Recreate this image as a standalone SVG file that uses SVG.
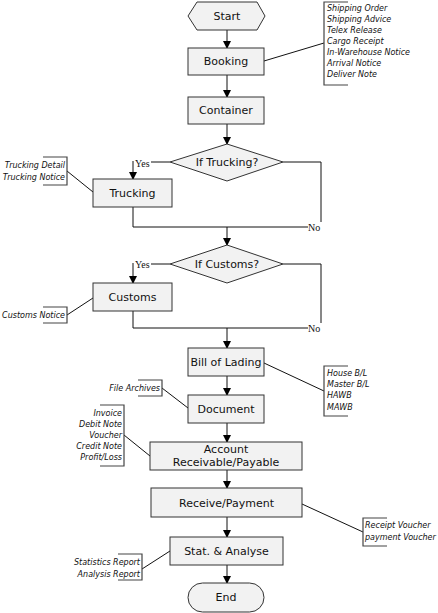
<svg xmlns="http://www.w3.org/2000/svg" width="438" height="613" viewBox="0 0 438 613">
<style>
.box{fill:#f2f2f2;stroke:#333;stroke-width:1}
.t{font-family:"DejaVu Sans",Verdana,sans-serif;font-size:11px;fill:#111;text-anchor:middle;dominant-baseline:central}
.a{font-family:"DejaVu Sans",Verdana,sans-serif;font-size:8px;font-style:italic;fill:#111}
.yn{font-family:"Liberation Serif","Times New Roman",serif;font-size:10px;fill:#111;dominant-baseline:central}
.ln{fill:none;stroke:#111;stroke-width:1}
.br{fill:none;stroke:#444;stroke-width:1.2}
</style>
<defs>
<marker id="ar" markerWidth="8" markerHeight="8" refX="7" refY="4" orient="auto" markerUnits="userSpaceOnUse">
<path d="M0,0 L8,4 L0,8 Z" fill="#000"/>
</marker>
</defs>
<rect width="438" height="613" fill="#fff"/>

<g id="connectors">
<path class="ln" d="M227,30 V48" marker-end="url(#ar)"/>
<path class="ln" d="M227,75 V97" marker-end="url(#ar)"/>
<path class="ln" d="M227,124 V144" marker-end="url(#ar)"/>
<path class="ln" d="M170,162 H151"/>
<path class="ln" d="M133,161 V179" marker-end="url(#ar)"/>
<path class="ln" d="M283,162 H321 V222"/>
<path class="ln" d="M133,207 V227 H308"/>
<path class="ln" d="M227,227 V245" marker-end="url(#ar)"/>
<path class="ln" d="M170,264 H151"/>
<path class="ln" d="M133,263 V283" marker-end="url(#ar)"/>
<path class="ln" d="M283,264 H321 V323"/>
<path class="ln" d="M133,311 V328 H308"/>
<path class="ln" d="M227,328 V348" marker-end="url(#ar)"/>
<path class="ln" d="M227,376 V395" marker-end="url(#ar)"/>
<path class="ln" d="M227,423 V442" marker-end="url(#ar)"/>
<path class="ln" d="M227,470 V488" marker-end="url(#ar)"/>
<path class="ln" d="M227,517 V537" marker-end="url(#ar)"/>
<path class="ln" d="M227,565 V583" marker-end="url(#ar)"/>
<text class="yn" x="135" y="163">Yes</text>
<text class="yn" x="308" y="227">No</text>
<text class="yn" x="135" y="264">Yes</text>
<text class="yn" x="308" y="328">No</text>
<!-- annotation links -->
<path class="ln" d="M264,61 L324,43"/>
<path class="ln" d="M67,171 L93,192"/>
<path class="ln" d="M67,315 L93,298"/>
<path class="ln" d="M264,363 L324,391"/>
<path class="ln" d="M162,388 L188,408"/>
<path class="ln" d="M124,435 L150,456"/>
<path class="ln" d="M302,504 L363,532"/>
<path class="ln" d="M142,569 L170,551"/>
</g>

<g id="start">
<polygon class="box" points="188,16 197,2 257,2 265,16 257,30 197,30"/>
<text class="t" x="227" y="16">Start</text>
</g>
<g id="booking">
<rect class="box" x="188" y="48" width="76" height="27"/>
<text class="t" x="226" y="61.5">Booking</text>
</g>
<g id="container">
<rect class="box" x="188" y="97" width="76" height="27"/>
<text class="t" x="226" y="110.5">Container</text>
</g>
<g id="if-trucking">
<polygon class="box" points="170,162 227,144 283,162 227,181"/>
<text class="t" x="227" y="162.5">If Trucking?</text>
</g>
<g id="trucking">
<rect class="box" x="93" y="179" width="79" height="28"/>
<text class="t" x="132.5" y="193">Trucking</text>
</g>
<g id="if-customs">
<polygon class="box" points="170,264 227,245 283,264 227,283"/>
<text class="t" x="227" y="264.5">If Customs?</text>
</g>
<g id="customs">
<rect class="box" x="93" y="283" width="79" height="28"/>
<text class="t" x="132.5" y="297">Customs</text>
</g>
<g id="bill-of-lading">
<rect class="box" x="188" y="348" width="76" height="28"/>
<text class="t" x="226" y="362">Bill of Lading</text>
</g>
<g id="document">
<rect class="box" x="188" y="395" width="76" height="28"/>
<text class="t" x="226" y="409">Document</text>
</g>
<g id="account">
<rect class="box" x="150" y="442" width="152" height="28"/>
<text class="t" x="226" y="449.5">Account</text>
<text class="t" x="226" y="462.5">Receivable/Payable</text>
</g>
<g id="receive-payment">
<rect class="box" x="151" y="488" width="151" height="29"/>
<text class="t" x="226.5" y="503">Receive/Payment</text>
</g>
<g id="stat-analyse">
<rect class="box" x="170" y="537" width="113" height="28"/>
<text class="t" x="226.5" y="551">Stat. &amp; Analyse</text>
</g>
<g id="end">
<rect class="box" x="188" y="583" width="76" height="29" rx="14.5" ry="14.5"/>
<text class="t" x="226" y="597.5">End</text>
</g>

<g id="note-booking">
<path class="br" d="M348,2 H324 V85 H348"/>
<text class="a" x="327" y="11">Shipping Order</text>
<text class="a" x="327" y="22">Shipping Advice</text>
<text class="a" x="327" y="33">Telex Release</text>
<text class="a" x="327" y="44">Cargo Receipt</text>
<text class="a" x="327" y="55">In-Warehouse Notice</text>
<text class="a" x="327" y="66">Arrival Notice</text>
<text class="a" x="327" y="77">Deliver Note</text>
</g>
<g id="note-trucking">
<path class="br" d="M43,157 H67 V185 H43"/>
<text class="a" x="65" y="168" text-anchor="end">Trucking Detail</text>
<text class="a" x="65" y="180" text-anchor="end">Trucking Notice</text>
</g>
<g id="note-customs">
<path class="br" d="M43,307 H67 V323 H43"/>
<text class="a" x="65" y="318" text-anchor="end">Customs Notice</text>
</g>
<g id="note-bl">
<path class="br" d="M348,366 H324 V416 H348"/>
<text class="a" x="327" y="376">House B/L</text>
<text class="a" x="327" y="387">Master B/L</text>
<text class="a" x="327" y="398">HAWB</text>
<text class="a" x="327" y="410">MAWB</text>
</g>
<g id="note-document">
<path class="br" d="M138,380 H162 V396 H138"/>
<text class="a" x="160" y="391" text-anchor="end">File Archives</text>
</g>
<g id="note-account">
<path class="br" d="M100,405 H124 V466 H100"/>
<text class="a" x="122" y="416" text-anchor="end">Invoice</text>
<text class="a" x="122" y="427" text-anchor="end">Debit Note</text>
<text class="a" x="122" y="438" text-anchor="end">Voucher</text>
<text class="a" x="122" y="449" text-anchor="end">Credit Note</text>
<text class="a" x="122" y="460" text-anchor="end">Profit/Loss</text>
</g>
<g id="note-receive">
<path class="br" d="M387,518 H363 V546 H387"/>
<text class="a" x="365" y="528">Receipt Voucher</text>
<text class="a" x="365" y="540">payment Voucher</text>
</g>
<g id="note-stat">
<path class="br" d="M118,554 H142 V580 H118"/>
<text class="a" x="140" y="565" text-anchor="end">Statistics Report</text>
<text class="a" x="140" y="577" text-anchor="end">Analysis Report</text>
</g>
</svg>
